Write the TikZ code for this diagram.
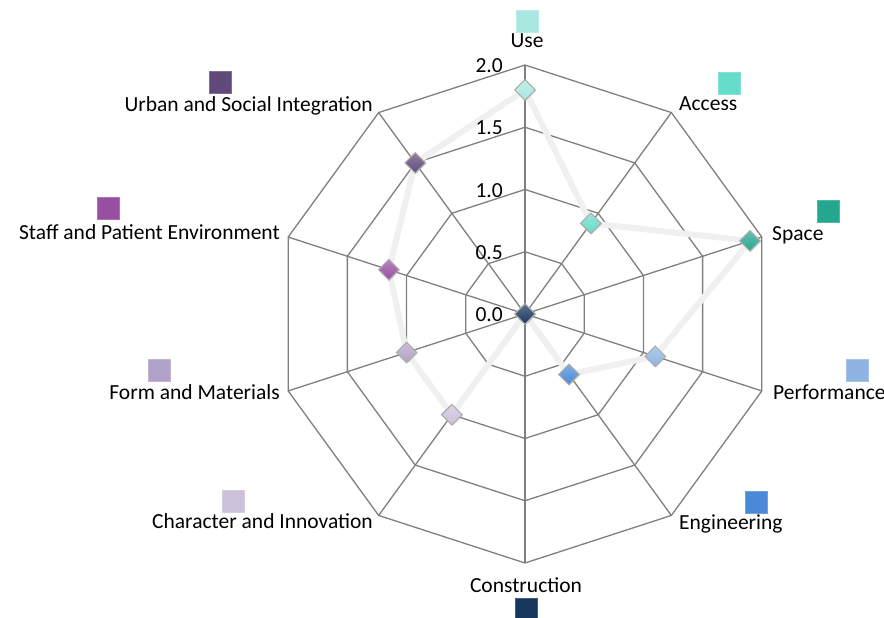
\documentclass[tikz,border=0pt]{standalone}
\usepackage{fontspec}
\setmainfont{Carlito}
\usetikzlibrary{shapes.geometric,shadows}
\definecolor{cUse}{HTML}{A9E8E1}
\definecolor{cAccess}{HTML}{66DCCB}
\definecolor{cSpace}{HTML}{24A78F}
\definecolor{cPerf}{HTML}{8EB4E3}
\definecolor{cEng}{HTML}{4A89D6}
\definecolor{cCons}{HTML}{17375E}
\definecolor{cChar}{HTML}{CCC1DA}
\definecolor{cForm}{HTML}{B3A2C7}
\definecolor{cStaff}{HTML}{984EA3}
\definecolor{cUrban}{HTML}{604A7B}
\definecolor{gridc}{HTML}{7F7F7F}
\definecolor{seriesc}{HTML}{F0F0F0}
\begin{document}
\begin{tikzpicture}[x=1pt,y=1pt,
  lab/.style={font=\fontsize{21.5}{25}\selectfont, inner sep=0pt},
  gridline/.style={draw=gridc, line width=1.3pt},
  series/.style={draw=seriesc, line width=6pt, line join=round},
  marker/.style={diamond, minimum size=21pt, inner sep=0pt, draw=gray!65, line width=1.1pt,
     top color=#1!70!white, bottom color=#1,
     drop shadow={opacity=0.2, shadow xshift=1pt, shadow yshift=-1pt}},
  legsq/.style={rectangle, minimum size=22pt, inner sep=0pt, fill=#1, draw=#1!80!white, line width=0.6pt}
]
\useasboundingbox (0,0) rectangle (884,618);
\begin{scope}[shift={(525,304)}]
  % rings
  \foreach \r in {62.25,124.5,186.75,249}
    \draw[gridline] (90:\r) \foreach \a in {126,162,...,414} { -- (\a:\r) } -- cycle;
  % spokes
  \foreach \a in {90,126,...,414}
    \draw[gridline] (0,0) -- (\a:249);
  % data points
  \coordinate (pUse)   at (90:{1.8*124.5});
  \coordinate (pAcc)   at (54:{0.9*124.5});
  \coordinate (pSpace) at (18:{1.9*124.5});
  \coordinate (pPerf)  at (-18:{1.1*124.5});
  \coordinate (pEng)   at (-54:{0.6*124.5});
  \coordinate (pCons)  at (-90:0);
  \coordinate (pChar)  at (-126:{1.0*124.5});
  \coordinate (pForm)  at (198:{1.0*124.5});
  \coordinate (pStaff) at (162:{1.15*124.5});
  \coordinate (pUrban) at (126:{1.5*124.5});
  \draw[series] (pUse) -- (pAcc) -- (pSpace) -- (pPerf) -- (pEng) -- (pCons) -- (pChar) -- (pForm) -- (pStaff) -- (pUrban) -- cycle;
  \node[marker=cUse]   (mUse)   at (pUse) {};
  \node[marker=cAccess](mAcc)   at (pAcc) {};
  \node[marker=cSpace] (mSpace) at (pSpace) {};
  \node[marker=cPerf]  (mPerf)  at (pPerf) {};
  \node[marker=cEng]   (mEng)   at (pEng) {};
  \node[marker=cCons]  (mCons)  at (pCons) {};
  \node[marker=cChar]  (mChar)  at (pChar) {};
  \node[marker=cForm]  (mForm)  at (pForm) {};
  \node[marker=cStaff] (mStaff) at (pStaff) {};
  \node[marker=cUrban] (mUrban) at (pUrban) {};
\end{scope}
% tick labels
\node[lab, anchor=base east] (t20) at (503,545) {2.0};
\node[lab, anchor=base east] (t15) at (503,483) {1.5};
\node[lab, anchor=base east] (t10) at (503,420.5) {1.0};
\node[lab, anchor=base east] (t05) at (503,358) {0.5};
\node[lab, anchor=base east] (t00) at (503,296) {0.0};
% category labels
\node[lab, anchor=base]      (lUse)   at (527,570) {Use};
\node[lab, anchor=base west] (lAcc)   at (679,507) {Access};
\node[lab, anchor=base west] (lSpace) at (772,377) {Space};
\node[lab, anchor=base west] (lPerf)  at (773,218) {Performance};
\node[lab, anchor=base west] (lEng)   at (679,88)  {Engineering};
\node[lab, anchor=base]      (lCons)  at (526,25)  {Construction};
\node[lab, anchor=base east] (lChar)  at (373,89)  {Character and Innovation};
\node[lab, anchor=base east] (lForm)  at (280,218) {Form and Materials};
\node[lab, anchor=base east] (lStaff) at (280,378) {Staff and Patient Environment};
\node[lab, anchor=base east] (lUrban) at (373,506) {Urban and Social Integration};
% legend squares
\node[legsq=cUse]    (sUse)   at (527,597) {};
\node[legsq=cAccess] (sAcc)   at (729,535) {};
\node[legsq=cSpace]  (sSpace) at (828,407) {};
\node[legsq=cPerf]   (sPerf)  at (857,248) {};
\node[legsq=cEng]    (sEng)   at (756,116) {};
\node[legsq=cCons]   (sCons)  at (526,9)   {};
\node[legsq=cChar]   (sChar)  at (233,117) {};
\node[legsq=cForm]   (sForm)  at (159,248) {};
\node[legsq=cStaff]  (sStaff) at (108,410) {};
\node[legsq=cUrban]  (sUrban) at (220,536) {};
\end{tikzpicture}
\end{document}
